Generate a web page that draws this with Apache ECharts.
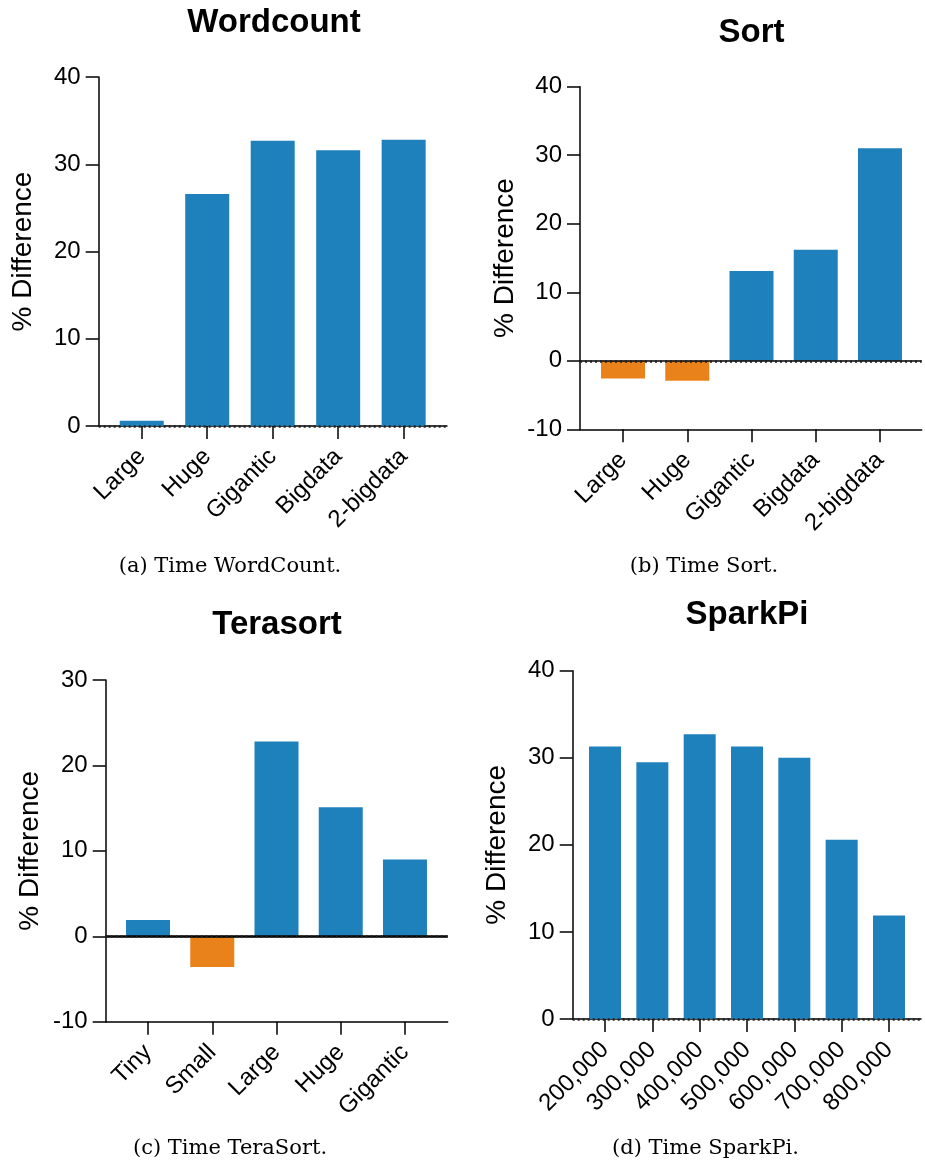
<!DOCTYPE html>
<html><head><meta charset="utf-8">
<script src="https://cdn.jsdelivr.net/npm/echarts@6/dist/echarts.min.js"></script>
<style>html,body{margin:0;padding:0;background:#fff}#c{width:925px;height:1163px}</style>
</head><body><div id="c"></div>
<script>
// ---- data ----
const wordcountCategories = ['Large', 'Huge', 'Gigantic', 'Bigdata', '2-bigdata'];
const wordcountValues = [0.6, 26.6, 32.7, 31.6, 32.8];
const sortCategories = ['Large', 'Huge', 'Gigantic', 'Bigdata', '2-bigdata'];
const sortValues = [-2.6, -2.9, 13.1, 16.2, 31.0];
const terasortCategories = ['Tiny', 'Small', 'Large', 'Huge', 'Gigantic'];
const terasortValues = [1.9, -3.6, 22.8, 15.1, 9.0];
const sparkpiCategories = ['200,000', '300,000', '400,000', '500,000', '600,000', '700,000', '800,000'];
const sparkpiValues = [31.3, 29.5, 32.7, 31.3, 30.0, 20.6, 11.9];
const wordcountYRange = [0, 40];
const sortYRange = [-10, 40];
const terasortYRange = [-10, 30];
const sparkpiYRange = [0, 40];
const yTickStep = 10;
const titles = ['Wordcount', 'Sort', 'Terasort', 'SparkPi'];
const captions = ['(a) Time WordCount.', '(b) Time Sort.', '(c) Time TeraSort.', '(d) Time SparkPi.'];
const yAxisName = '% Difference';

// ---- layout / style ----
const FONT = '"Liberation Sans", Arial, Helvetica, sans-serif';
const SERIF = '"DejaVu Serif", serif';
const BLUE = '#1e81bc', ORANGE = '#ea821c';
const panels = [
  { cats: wordcountCategories, vals: wordcountValues, yr: wordcountYRange,
    outer: { left: 98.7, top: 77, width: 348.3, height: 349 }, inner: { left: 109, width: 327.4 },
    barWidth: 44, zeroSolid: 0, title: [274, 23.4], caption: [230, 567] },
  { cats: sortCategories, vals: sortValues, yr: sortYRange,
    outer: { left: 580, top: 86.7, width: 341.7, height: 342.6 }, inner: { left: 590.9, width: 321.2 },
    barWidth: 44, zeroSolid: 1.5, title: [751.5, 33.3], caption: [704, 567] },
  { cats: terasortCategories, vals: terasortValues, yr: terasortYRange,
    outer: { left: 105.7, top: 680, width: 342, height: 341.7 }, inner: { left: 115.9, width: 321.2 },
    barWidth: 44, zeroSolid: 2.5, title: [277, 625], caption: [230, 1149] },
  { cats: sparkpiCategories, vals: sparkpiValues, yr: sparkpiYRange,
    outer: { left: 572.7, top: 670.7, width: 348.3, height: 348.3 }, inner: { left: 581.35, width: 331.3 },
    barWidth: 32, zeroSolid: 0, title: [747, 615], caption: [705.5, 1149] }
];

const grid = [], xAxis = [], yAxis = [], series = [], graphic = [];
const lineStyle = { color: '#000', width: 1.5 };
panels.forEach((p, i) => {
  const o = 2 * i, n = 2 * i + 1;
  grid.push({ left: p.outer.left, top: p.outer.top, width: p.outer.width, height: p.outer.height, outerBoundsMode: 'none', containLabel: false });
  grid.push({ left: p.inner.left, top: p.outer.top, width: p.inner.width, height: p.outer.height, outerBoundsMode: 'none', containLabel: false });
  xAxis.push({ gridIndex: o, type: 'value', min: 0, max: 1,
    axisLine: { show: true, onZero: false, lineStyle },
    axisTick: { show: false }, axisLabel: { show: false }, splitLine: { show: false } });
  xAxis.push({ gridIndex: n, type: 'category', data: p.cats,
    axisLine: { show: false, onZero: false },
    axisTick: { show: true, alignWithLabel: true, length: 13, lineStyle },
    axisLabel: { rotate: 45, interval: 0, fontSize: 24, fontFamily: FONT, color: '#000', margin: 27 },
    splitLine: { show: false } });
  yAxis.push({ gridIndex: o, type: 'value', min: p.yr[0], max: p.yr[1], interval: yTickStep,
    axisLine: { show: true, lineStyle },
    axisTick: { show: true, length: 13, lineStyle },
    axisLabel: { fontSize: 24, fontFamily: FONT, color: '#000', margin: 18 },
    splitLine: { show: false },
    name: yAxisName, nameLocation: 'middle', nameGap: 61,
    nameTextStyle: { fontSize: 28, fontFamily: FONT, color: '#000' } });
  yAxis.push({ gridIndex: n, type: 'value', min: p.yr[0], max: p.yr[1], interval: yTickStep, show: false });
  series.push({ type: 'bar', xAxisIndex: n, yAxisIndex: n, data: p.vals, barWidth: p.barWidth, silent: true,
    itemStyle: { color: (d) => d.value < 0 ? ORANGE : BLUE } });
  const ml = [];
  if (p.zeroSolid) ml.push({ yAxis: 0, lineStyle: { type: 'solid', color: '#000', width: p.zeroSolid } });
  ml.push({ yAxis: 0, lineStyle: { type: [2, 3], color: '#222', width: 2.5 } });
  series.push({ type: 'line', xAxisIndex: o, yAxisIndex: o, data: [], silent: true,
    markLine: { symbol: ['none', 'none'], silent: true, label: { show: false }, animation: false, data: ml } });
  graphic.push({ type: 'text', x: p.title[0], y: p.title[1], silent: true,
    style: { text: titles[i], fontSize: 33, fontWeight: 'bold', fontFamily: FONT, fill: '#000', align: 'center', verticalAlign: 'middle' } });
  graphic.push({ type: 'text', x: p.caption[0], y: p.caption[1], silent: true,
    style: { text: captions[i], fontSize: 21, fontFamily: SERIF, fill: '#000', align: 'center', verticalAlign: 'middle' } });
});

const chart = echarts.init(document.getElementById('c'), null, { renderer: 'canvas' });
chart.setOption({ animation: false, backgroundColor: '#fff', grid, xAxis, yAxis, series, graphic });
</script></body></html>
